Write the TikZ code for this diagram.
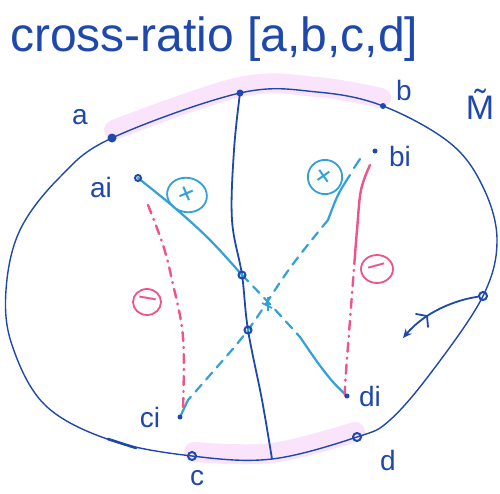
\documentclass[tikz,border=0pt]{standalone}
\usepackage{fontspec}
\setmainfont{Liberation Sans}
\usetikzlibrary{shapes.geometric,arrows.meta}
\definecolor{ink}{RGB}{30,72,172}
\definecolor{sky}{RGB}{52,160,216}
\definecolor{rose}{RGB}{240,82,140}
\definecolor{hl}{RGB}{249,228,251}
\tikzset{
  lbl/.style={text=ink,font=\fontsize{28}{30}\selectfont,inner sep=0pt},
  fdot/.style={circle,fill=ink,inner sep=0pt,minimum size=#1},
  rdot/.style={circle,draw=ink,line width=2pt,inner sep=0pt,minimum size=#1},
  sign/.style={ellipse,draw=#1,text=#1,line width=1.8pt,inner sep=0pt,font=\fontsize{30}{30}\selectfont},
  bluel/.style={sky,line width=2.2pt,line cap=round},
  rosel/.style={rose,line width=2.4pt,line cap=round},
  hlband/.style={hl,line width=20pt,line cap=round},
  dashdotrose/.style={rosel,dash pattern=on 9pt off 6pt on 1pt off 6pt},
  dashsky/.style={bluel,dash pattern=on 9pt off 7pt}
}
\begin{document}
\begin{tikzpicture}[x=1pt,y=-1pt]
\useasboundingbox (0,0) rectangle (500,493);
% points
\coordinate (a) at (112,138);
\coordinate (top) at (240,93);
\coordinate (b) at (383,106);
\coordinate (R) at (483,296);
\coordinate (d) at (357,437);
\coordinate (bot) at (272,459);
\coordinate (c) at (192,456);
\coordinate (v1) at (242,275);
\coordinate (v2) at (248,330);
\coordinate (ai) at (138,178);
\coordinate (bi) at (375,151);
\coordinate (ci) at (180,417);
\coordinate (di) at (347,396);
% highlight bands
\draw[hlband] plot[smooth,tension=0.6] coordinates {(114,130) (240,87) (317,87) (381,98)};
\draw[hlband] plot[smooth,tension=0.6] coordinates {(194,452) (272,453) (355,432)};
% main closed curve
\draw[ink,line width=1.4pt] plot[smooth cycle,tension=0.6] coordinates {
 (a) (top) (317,92) (b) (450,143) (483,187) (497,240) (R) (433,370) (390,420) (d) (bot) (c) (110,440) (45,405) (12,345) (6,290) (20,230) (60,177)};
\draw[ink,line width=2.6pt,line cap=round] (108,439) -- (136,448);
% vertical geodesic
\draw[ink,line width=1.8pt] plot[smooth,tension=0.6] coordinates {(top) (234,150) (232,220) (v1) (v2) (262,400) (bot)};
% light blue lines
\draw[bluel] plot[smooth,tension=0.6] coordinates {(ai) (175,208) (210,240) (v1)};
\draw[dashsky] plot[smooth,tension=0.6] coordinates {(v1) (268,302) (300,337)};
\draw[bluel] plot[smooth,tension=0.6] coordinates {(300,337) (318,363) (333,382) (di)};
\draw[bluel] (bi) ++(-15,8) -- ++(-6,9);
\draw[bluel] plot[smooth,tension=0.6] coordinates {(350,175) (338,195) (328,220)};
\draw[dashsky] plot[smooth,tension=0.6] coordinates {(328,220) (290,268) (v2) (210,375) (188,400)};
\draw[bluel] (188,400) -- (ci);
\draw[sky,line width=1.6pt] (262,303) -- (272,308) (268,297) -- (268,311);
% rose lines
\draw[dashdotrose] plot[smooth,tension=0.6] coordinates {(148,205) (163,245) (172,280) (183,337) (183,410)};
\draw[rosel] plot[smooth,tension=0.6] coordinates {(370,165) (361,190) (357,230) (355,255)};
\draw[dashdotrose] plot[smooth,tension=0.6] coordinates {(355,255) (350,320) (345,387) (346,398)};
% dots
\node[fdot=9pt] (pa) at (a) {};
\node[fdot=7pt] (ptop) at (top) {};
\node[fdot=6pt] (pb) at (b) {};
\node[rdot=8pt] (pc) at (c) {};
\node[rdot=8pt] (pd) at (d) {};
\node[rdot=8pt] (pR) at (R) {};
\node[rdot=7pt] (pv1) at (v1) {};
\node[rdot=7pt] (pv2) at (v2) {};
\node[rdot=6pt] (pai) at (ai) {};
\node[fdot=5pt] (pbi) at (bi) {};
\node[fdot=5pt] (pci) at (ci) {};
\node[fdot=5pt] (pdi) at (di) {};
% arrow
\coordinate (arrowend) at (403,338);
\draw[ink,line width=1.8pt,-{Stealth[length=9pt,width=8pt]}] (pR) .. controls (455,300) and (425,312) .. (arrowend);
\draw[ink,line width=1.8pt,line cap=round] (416,314) -- (427,316) -- (428,327);
% signs
\node[sign=sky,minimum width=40pt,minimum height=28pt,rotate=-12] (plusL) at (187,195) {\rotatebox{35}{+}};
\node[sign=sky,minimum width=32pt,minimum height=29pt] (plusR) at (325,177) {\rotatebox{35}{+}};
\node[sign=rose,minimum width=28pt,minimum height=26pt] (minL) at (147,302) {\rotatebox{-10}{\textendash}};
\node[sign=rose,minimum width=32pt,minimum height=28pt] (minR) at (377,269) {\rotatebox{15}{\textendash}};
% labels
\node[lbl] (la) at (80,117) {a};
\node[lbl] (lb) at (404,90) {b};
\node[lbl] (lai) at (101,187) {ai};
\node[lbl] (lbi) at (400,156) {bi};
\node[lbl] (lci) at (150,417) {ci};
\node[lbl] (ldi) at (370,396) {di};
\node[lbl] (lc) at (197,478) {c};
\node[lbl] (ld) at (388,460) {d};
\node[lbl,font=\fontsize{34}{36}\selectfont] (lM) at (480,104) {\~{M}};
\node[text=ink,font=\fontsize{48}{50}\selectfont,inner sep=0pt,anchor=base west] (title) at (10,51) {cross-ratio [a,b,c,d]};
\end{tikzpicture}
\end{document}
